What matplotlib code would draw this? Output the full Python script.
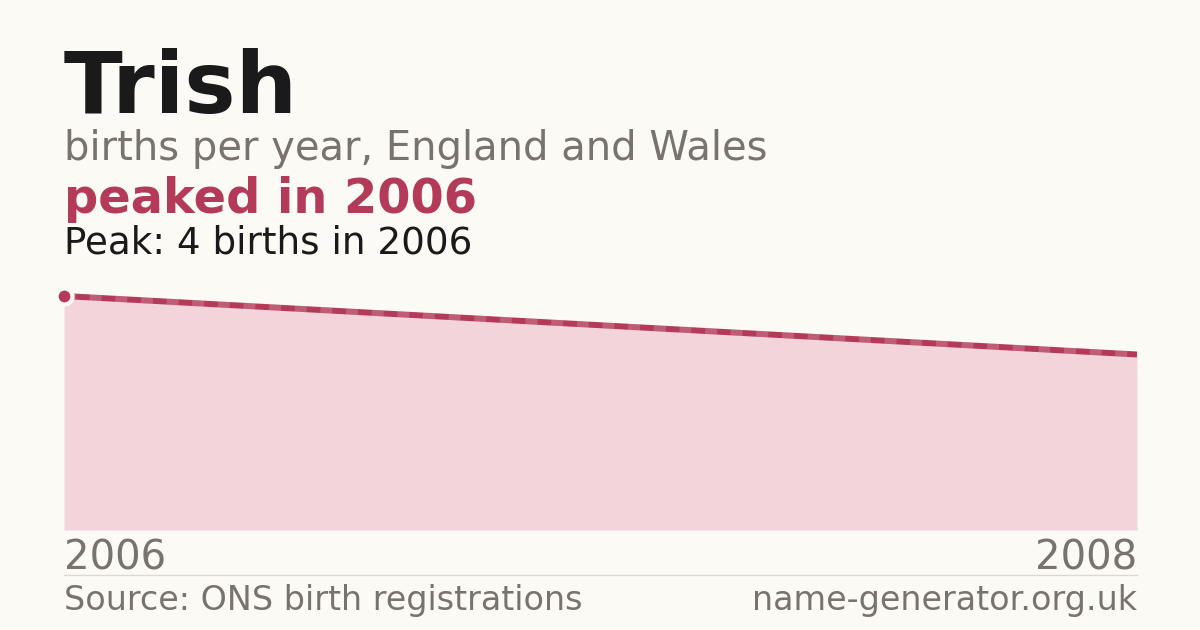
import os
import matplotlib
matplotlib.use("Agg")
import matplotlib.pyplot as plt
from matplotlib.font_manager import FontProperties

# use the DejaVu files shipped with matplotlib
font_dir = os.path.join(matplotlib.get_data_path(), "fonts", "ttf")
REG = os.path.join(font_dir, "DejaVuSans.ttf")
BOLD = os.path.join(font_dir, "DejaVuSans-Bold.ttf")

def fp(size, bold=False):
    return FontProperties(fname=BOLD if bold else REG, size=size)

# data
years = [2006, 2008]
births = [4, 3]
name = "Trish"
subtitle = "births per year, England and Wales"
headline = "peaked in 2006"
peak_note = "Peak: 4 births in 2006"
source = "Source: ONS birth registrations"
site = "name-generator.org.uk"

BG = "#fbfaf5"
ACCENT = "#b33a58"
FILL = "#f2d4da"
GREY = "#78736c"
DARK = "#1a1a1a"

W, H = 1200, 630
fig = plt.figure(figsize=(W / 100, H / 100), dpi=100, facecolor=BG)

def fy(px):
    return 1 - px / H

def fx(px):
    return px / W

left, right, base = 64, 1137, 530
top = 530 - 4.4 * 58.5
ax = fig.add_axes([fx(left), fy(base), fx(right - left), (base - top) / H])
ax.set_facecolor(BG)
ax.fill_between(years, births, 0, color=FILL, lw=0)
ax.plot(years, births, color=ACCENT, lw=4.3, solid_capstyle="butt")
# faint stripes along the line like the original
ax.plot(years, births, color="white", alpha=0.18, lw=4.3, dashes=(2, 2.3))
peak_i = births.index(max(births))
ax.plot(years[peak_i], births[peak_i], "o", ms=11.5, color=ACCENT,
        mec=BG, mew=3, clip_on=False, zorder=5)
ax.set_xlim(years[0], years[-1])
ax.set_ylim(0, max(births) * 1.1)
ax.axis("off")

fig.text(fx(64), fy(113), name, fontproperties=fp(62, True), color=DARK, va="baseline")
fig.text(fx(64), fy(160), subtitle, fontproperties=fp(28.8), color=GREY, va="baseline")
fig.text(fx(64), fy(213), headline, fontproperties=fp(34.5, True), color=ACCENT, va="baseline")
fig.text(fx(64), fy(253), peak_note, fontproperties=fp(26.8), color=DARK, va="baseline")

fig.text(fx(64), fy(570), str(years[0]), fontproperties=fp(28.9), color=GREY, va="baseline")
fig.text(fx(1137), fy(570), str(years[-1]), fontproperties=fp(28.9), color=GREY,
         va="baseline", ha="right")

fig.add_artist(plt.Line2D([fx(64), fx(1137)], [fy(574.5), fy(574.5)], color="#ddd9d0", lw=1))

fig.text(fx(64), fy(610), source, fontproperties=fp(24), color=GREY, va="baseline")
fig.text(fx(1137), fy(610), site, fontproperties=fp(24), color=GREY,
         va="baseline", ha="right")

fig.savefig("out.png", dpi=100, facecolor=BG)
